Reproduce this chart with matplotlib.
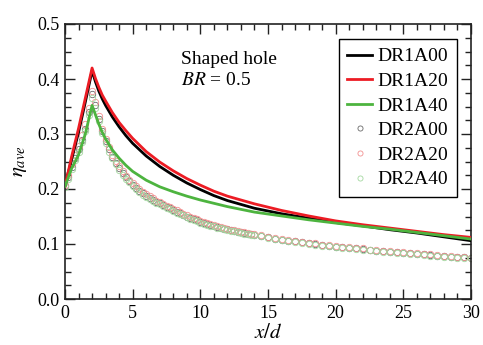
import matplotlib
matplotlib.use("Agg")
import matplotlib.pyplot as plt
from matplotlib.ticker import MultipleLocator, FormatStrFormatter

plt.rcParams['font.family'] = ['Liberation Serif', 'DejaVu Serif']
plt.rcParams['mathtext.fontset'] = 'stix'

# ---- data ----
x_line = [0, 0.5, 1, 1.5, 2, 2.25, 2.5, 2.75, 3, 3.5, 4, 4.5, 5, 6, 7, 8, 9, 10, 11, 12, 14, 16, 18, 20, 22, 24, 26, 28, 30]
dr1a00 = [0.205, 0.255, 0.303, 0.358, 0.415, 0.395, 0.378, 0.364, 0.352, 0.331, 0.313, 0.297, 0.283, 0.260, 0.241,
          0.225, 0.211, 0.199, 0.188, 0.179, 0.165, 0.155, 0.147, 0.139, 0.133, 0.126, 0.120, 0.113, 0.106]
dr1a20 = [0.205, 0.260, 0.310, 0.365, 0.420, 0.401, 0.385, 0.371, 0.360, 0.339, 0.321, 0.306, 0.292, 0.268, 0.249,
          0.233, 0.219, 0.207, 0.196, 0.187, 0.173, 0.161, 0.151, 0.142, 0.135, 0.129, 0.123, 0.117, 0.112]
dr1a40 = [0.205, 0.238, 0.262, 0.300, 0.352, 0.335, 0.318, 0.303, 0.291, 0.271, 0.256, 0.243, 0.232, 0.216, 0.204,
          0.195, 0.187, 0.180, 0.174, 0.168, 0.158, 0.151, 0.144, 0.138, 0.132, 0.127, 0.121, 0.115, 0.109]

x_pts = [0, 0.25, 0.5, 0.75, 1.0, 1.25, 1.5, 1.75, 2.0, 2.25, 2.5, 2.75, 3.0, 3.25, 3.5, 3.75,
         4.0, 4.25, 4.5, 4.75, 5.0, 5.25, 5.5, 5.75, 6.0, 6.25, 6.5, 6.75, 7.0, 7.25, 7.5, 7.75,
         8.0, 8.25, 8.5, 8.75, 9.0, 9.25, 9.5, 9.75, 10.0, 10.25, 10.5, 10.75, 11.0, 11.25, 11.5, 11.75,
         12.0, 12.25, 12.5, 12.75, 13.0, 13.25, 13.5, 13.75, 14.0, 14.5, 15.0, 15.5, 16.0, 16.5, 17.0, 17.5,
         18.0, 18.5, 19.0, 19.5, 20.0, 20.5, 21.0, 21.5, 22.0, 22.5, 23.0, 23.5, 24.0, 24.5, 25.0, 25.5,
         26.0, 26.5, 27.0, 27.5, 28.0, 28.5, 29.0, 29.5, 30.0]
dr2a00 = [0.205, 0.222, 0.240, 0.256, 0.272, 0.290, 0.310, 0.340, 0.372, 0.352, 0.328, 0.305, 0.287, 0.272, 0.259, 0.248,
          0.238, 0.229, 0.221, 0.214, 0.208, 0.202, 0.197, 0.192, 0.188, 0.184, 0.180, 0.177, 0.174, 0.171, 0.168, 0.165,
          0.162, 0.159, 0.156, 0.153, 0.150, 0.148, 0.145, 0.143, 0.140, 0.138, 0.136, 0.135, 0.133, 0.131, 0.130, 0.128,
          0.127, 0.125, 0.124, 0.122, 0.121, 0.120, 0.119, 0.118, 0.117, 0.115, 0.112, 0.110, 0.108, 0.106, 0.105, 0.103,
          0.101, 0.100, 0.098, 0.097, 0.095, 0.094, 0.093, 0.092, 0.091, 0.090, 0.088, 0.087, 0.086, 0.085, 0.084, 0.083,
          0.082, 0.081, 0.080, 0.079, 0.078, 0.077, 0.076, 0.076, 0.075]
dr2a20 = [0.207, 0.226, 0.245, 0.262, 0.279, 0.298, 0.319, 0.348, 0.378, 0.358, 0.333, 0.310, 0.291, 0.276, 0.262, 0.251,
          0.241, 0.232, 0.224, 0.217, 0.211, 0.205, 0.200, 0.195, 0.191, 0.187, 0.183, 0.179, 0.176, 0.173, 0.170, 0.167,
          0.164, 0.161, 0.158, 0.155, 0.152, 0.150, 0.147, 0.145, 0.142, 0.140, 0.138, 0.136, 0.134, 0.132, 0.131, 0.129,
          0.128, 0.126, 0.125, 0.123, 0.122, 0.121, 0.120, 0.119, 0.118, 0.116, 0.113, 0.111, 0.109, 0.107, 0.106, 0.104,
          0.102, 0.101, 0.099, 0.098, 0.096, 0.095, 0.094, 0.093, 0.092, 0.090, 0.089, 0.088, 0.087, 0.086, 0.085, 0.084,
          0.083, 0.082, 0.081, 0.080, 0.079, 0.078, 0.077, 0.076, 0.075]
dr2a40 = [0.203, 0.219, 0.236, 0.252, 0.268, 0.286, 0.306, 0.335, 0.366, 0.347, 0.323, 0.301, 0.283, 0.268, 0.256, 0.245,
          0.235, 0.226, 0.218, 0.212, 0.205, 0.200, 0.195, 0.190, 0.186, 0.182, 0.178, 0.175, 0.172, 0.169, 0.166, 0.163,
          0.160, 0.157, 0.154, 0.152, 0.149, 0.146, 0.144, 0.142, 0.139, 0.137, 0.135, 0.133, 0.132, 0.130, 0.129, 0.127,
          0.126, 0.124, 0.123, 0.121, 0.120, 0.119, 0.118, 0.117, 0.116, 0.114, 0.111, 0.109, 0.107, 0.105, 0.104, 0.102,
          0.100, 0.099, 0.097, 0.096, 0.094, 0.093, 0.092, 0.091, 0.090, 0.089, 0.087, 0.086, 0.085, 0.084, 0.083, 0.082,
          0.081, 0.080, 0.079, 0.078, 0.077, 0.076, 0.075, 0.075, 0.074]

fig = plt.figure(figsize=(4.83, 3.45), dpi=100)
ax = fig.add_axes([65/483, 1-299/345, (471-65)/483, (299-24)/345])

ax.plot(x_pts, dr2a00, 'o', ms=4.6, mfc='none', mec='#6a6a6a', mew=0.6, label='DR2A00', zorder=2)
ax.plot(x_pts, dr2a20, 'o', ms=4.6, mfc='none', mec='#f29090', mew=0.6, label='DR2A20', zorder=2)
ax.plot(x_pts, dr2a40, 'o', ms=4.6, mfc='none', mec='#a4d8a0', mew=0.6, label='DR2A40', zorder=2)
ax.plot(x_line, dr1a00, color='#000000', lw=2.0, label='DR1A00', zorder=3)
ax.plot(x_line, dr1a20, color='#ec1c24', lw=2.0, label='DR1A20', zorder=3)
ax.plot(x_line, dr1a40, color='#4db43f', lw=2.0, label='DR1A40', zorder=3)

ax.set_xlim(0, 30)
ax.set_ylim(0, 0.5)
ax.xaxis.set_major_locator(MultipleLocator(5))
ax.xaxis.set_minor_locator(MultipleLocator(1))
ax.yaxis.set_major_locator(MultipleLocator(0.1))
ax.yaxis.set_minor_locator(MultipleLocator(0.025))
ax.yaxis.set_major_formatter(FormatStrFormatter('%.1f'))
ax.tick_params(which='both', direction='in', top=True, right=True, colors='#222222', labelcolor='black',
               labelsize=13, width=1.0)
ax.tick_params(which='major', length=7, pad=4)
ax.tick_params(which='minor', length=4)
for s in ax.spines.values():
    s.set_linewidth(1.2)
    s.set_color('#222222')

ax.set_xlabel(r'$x/d$', fontsize=15, labelpad=2)
ax.set_ylabel(r'$\eta_{ave}$', fontsize=15, labelpad=6)

ax.text(8.55, 0.427, 'Shaped hole', fontsize=14)
ax.text(8.55, 0.389, r'$BR$ = 0.5', fontsize=14)

handles, labels = ax.get_legend_handles_labels()
order = [3, 4, 5, 0, 1, 2]
leg = ax.legend([handles[i] for i in order], [labels[i] for i in order], loc='upper right',
                bbox_to_anchor=(457/483, 1-39/345), bbox_transform=fig.transFigure, borderaxespad=0,
                fontsize=14, frameon=True, fancybox=False, edgecolor='black', framealpha=1,
                handlelength=1.25, handletextpad=0.3, labelspacing=0.36, borderpad=0.45,
                markerscale=0.8)
leg.get_frame().set_linewidth(1.0)

fig.savefig('out.png', dpi=100)
